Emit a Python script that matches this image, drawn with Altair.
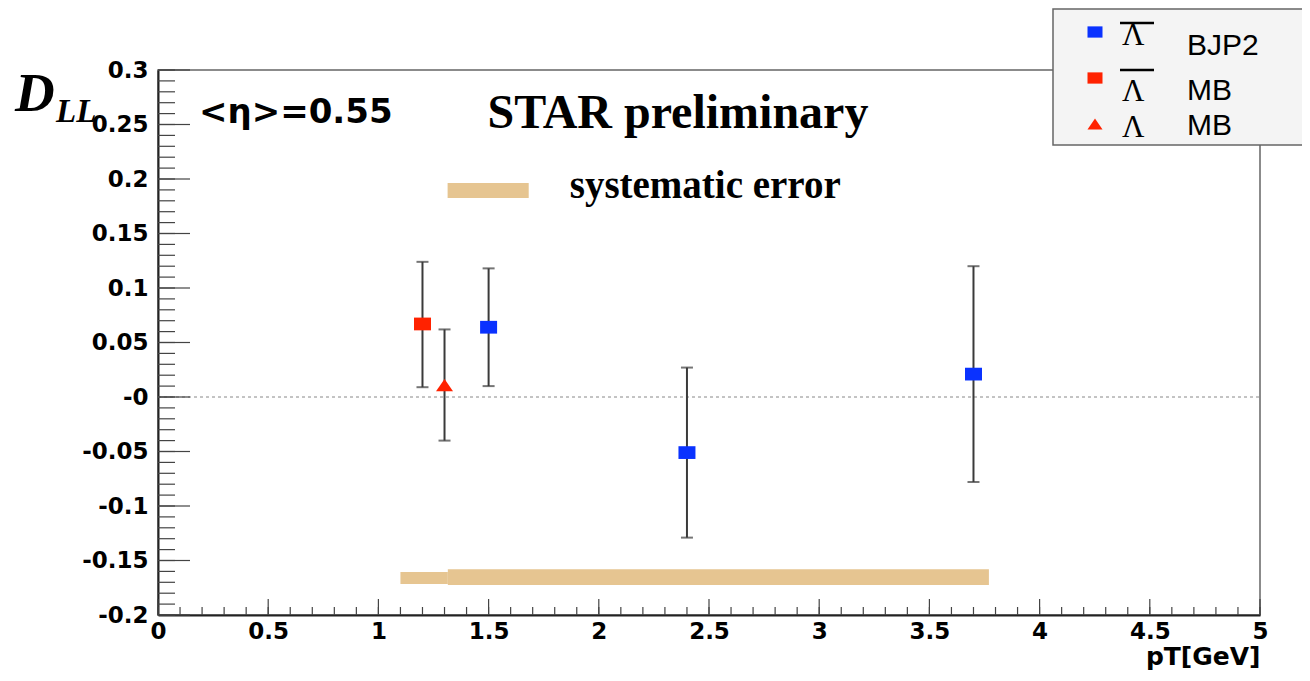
import altair as alt
import pandas as pd

# ---------------- data ----------------
series_names = ["Lbar BJP2", "Lbar MB", "L MB"]
series_colors = ["#0a32ff", "#ff2200", "#ff2200"]
series_shapes = [
    "M-1,-0.75L1,-0.75L1,0.75L-1,0.75Z",
    "M-1,-0.75L1,-0.75L1,0.75L-1,0.75Z",
    "M0,-0.72L1,0.72L-1,0.72Z",
]

pt = [1.5, 2.4, 3.7, 1.2, 1.3]
dll = [0.064, -0.051, 0.021, 0.067, 0.011]
err_lo = [0.010, -0.129, -0.078, 0.009, -0.040]
err_hi = [0.118, 0.027, 0.120, 0.124, 0.062]
series = [series_names[0], series_names[0], series_names[0], series_names[1], series_names[2]]

# systematic error bands
sys_x1 = [1.10, 1.315]
sys_x2 = [1.315, 3.77]
sys_lo = [-0.1715, -0.1725]
sys_hi = [-0.1605, -0.158]

# legend swatch of systematic error
swatch_x1 = [1.314]
swatch_x2 = [1.682]
swatch_lo = [0.1826]
swatch_hi = [0.1963]

zero_line = [0.0]

x_major = [0, 0.5, 1, 1.5, 2, 2.5, 3, 3.5, 4, 4.5, 5]
y_major = [-0.2, -0.15, -0.1, -0.05, 0, 0.05, 0.1, 0.15, 0.2, 0.25, 0.3]
x_minor = [round(i * 0.1, 1) for i in range(51)]
y_minor = [round(-0.2 + i * 0.01, 2) for i in range(51)]

annot_text = ["<\u03b7>=0.55", "STAR preliminary", "systematic error"]
annot_x = [0.186, 1.495, 1.868]
annot_y = [0.2514, 0.2468, 0.1826]

legend_names = ["BJP2", "MB", "MB"]
legend_lambda = ["\u039b", "\u039b", "\u039b"]

W, H = 1102, 545
SANS = "DejaVu Sans"
SERIF = "Liberation Serif"

xs = alt.Scale(domain=[0, 5], nice=False, zero=False)
ys = alt.Scale(domain=[-0.2, 0.3], nice=False, zero=False)

X_AX = alt.Axis(
    values=x_major, ticks=False, tickSize=0, grid=False,
    labelExpr="'' + datum.value",
    labelFont=SANS, labelFontSize=23, labelFontWeight="bold", labelColor="black",
    labelPadding=5, labelFlush=False, labelOverlap=False, labelBound=False,
    domainColor="#222", domainWidth=2,
    title="pT[GeV]", titleFont=SANS, titleFontSize=25, titleFontWeight="bold",
    titleColor="black", titleAnchor="end", titleAlign="right",
    titleBaseline="alphabetic", titleX=W, titleY=49,
)
Y_AX = alt.Axis(
    values=y_major, ticks=False, tickSize=0, grid=False,
    labelExpr="datum.value == 0 ? '-0' : '' + datum.value",
    labelFont=SANS, labelFontSize=23, labelFontWeight="bold", labelColor="black",
    labelPadding=10, labelFlush=False, labelOverlap=False, labelBound=False,
    domainColor="#222", domainWidth=2, title=None,
)


def X(f):
    return alt.X(f, scale=xs, axis=X_AX)


def Y(f):
    return alt.Y(f, scale=ys, axis=Y_AX)


df = pd.DataFrame({"pt": pt, "dll": dll, "lo": err_lo, "hi": err_hi, "series": series})

zero = alt.Chart(pd.DataFrame({"z": zero_line})).mark_rule(
    color="#888", strokeWidth=1, strokeDash=[3, 3]
).encode(y=Y("z:Q"), x=alt.value(0), x2=alt.value(W))

sysdf = pd.DataFrame({"x1": sys_x1, "x2": sys_x2, "lo": sys_lo, "hi": sys_hi})
sysbars = alt.Chart(sysdf).mark_rect(color="#e6c591").encode(
    x=X("x1:Q"), x2="x2:Q", y=Y("lo:Q"), y2="hi:Q",
)

swdf = pd.DataFrame({"x1": swatch_x1, "x2": swatch_x2, "lo": swatch_lo, "hi": swatch_hi})
swatch = alt.Chart(swdf).mark_rect(color="#e6c591").encode(
    x=X("x1:Q"), x2="x2:Q", y=Y("lo:Q"), y2="hi:Q",
)

ERR_COL = "#3a3a3a"
errbars = alt.Chart(df).mark_rule(color=ERR_COL, strokeWidth=2).encode(
    x=X("pt:Q"), y=Y("lo:Q"), y2="hi:Q",
)
cap_lo = alt.Chart(df).mark_tick(color=ERR_COL, orient="horizontal", size=12, thickness=2).encode(
    x=X("pt:Q"), y=Y("lo:Q")
)
cap_hi = alt.Chart(df).mark_tick(color=ERR_COL, orient="horizontal", size=12, thickness=2).encode(
    x=X("pt:Q"), y=Y("hi:Q")
)

legend = alt.Legend(
    orient="none", legendX=922, legendY=-53, title=None, padding=0,
    symbolOffset=0, labelExpr="''", labelFontSize=30, rowPadding=16,
    symbolSize=225, symbolStrokeWidth=0,
)

points = alt.Chart(df).mark_point(filled=True, opacity=1, size=289, strokeWidth=0).encode(
    x=X("pt:Q"),
    y=Y("dll:Q"),
    color=alt.Color("series:N", scale=alt.Scale(domain=series_names, range=series_colors),
                    legend=legend),
    shape=alt.Shape("series:N", scale=alt.Scale(domain=series_names, range=series_shapes),
                    legend=legend),
)

tick_col = "#444"
ymin_t = alt.Chart(pd.DataFrame({"v": y_minor})).mark_rule(color=tick_col, strokeWidth=1.2).encode(
    y=Y("v:Q"), x=alt.value(0), x2=alt.value(17)
)
ymaj_t = alt.Chart(pd.DataFrame({"v": y_major})).mark_rule(color=tick_col, strokeWidth=1.2).encode(
    y=Y("v:Q"), x=alt.value(0), x2=alt.value(32)
)
xmin_t = alt.Chart(pd.DataFrame({"v": x_minor})).mark_rule(color=tick_col, strokeWidth=1.2).encode(
    x=X("v:Q"), y=alt.value(H), y2=alt.value(H - 8)
)
xmaj_t = alt.Chart(pd.DataFrame({"v": x_major})).mark_rule(color=tick_col, strokeWidth=1.2).encode(
    x=X("v:Q"), y=alt.value(H), y2=alt.value(H - 16)
)

adf = pd.DataFrame({"t": annot_text, "x": annot_x, "y": annot_y})
eta = alt.Chart(adf.iloc[[0]]).mark_text(
    font=SANS, fontSize=34, fontWeight="bold", align="left", baseline="alphabetic", color="black"
).encode(x=X("x:Q"), y=Y("y:Q"), text="t:N")
star = alt.Chart(adf.iloc[[1]]).mark_text(
    font=SERIF, fontSize=48, fontWeight="bold", align="left", baseline="alphabetic", color="black"
).encode(x=X("x:Q"), y=Y("y:Q"), text="t:N")
syst = alt.Chart(adf.iloc[[2]]).mark_text(
    font=SERIF, fontSize=39, fontWeight="bold", align="left", baseline="alphabetic", color="black"
).encode(x=X("x:Q"), y=Y("y:Q"), text="t:N")

ylab_d = alt.Chart(pd.DataFrame({"t": ["D"]})).mark_text(
    font=SERIF, fontSize=55, fontWeight="bold", fontStyle="italic", align="left",
    baseline="alphabetic", color="black"
).encode(x=alt.value(-143), y=alt.value(41), text="t:N")
ylab_ll = alt.Chart(pd.DataFrame({"t": ["LL"]})).mark_text(
    font=SERIF, fontSize=33, fontWeight="bold", fontStyle="italic", align="left",
    baseline="alphabetic", color="black"
).encode(x=alt.value(-102), y=alt.value(52), text="t:N")

# legend box (frame), lambda glyphs with overbars and entry names
legbox = alt.Chart(pd.DataFrame({"t": ["box"]})).mark_rect(
    fill="#f4f4f4", stroke="#666", strokeWidth=1.5
).encode(x=alt.value(895), x2=alt.value(1160), y=alt.value(-61), y2=alt.value(75))

leg_lam = []
for lam, yb in zip(legend_lambda, [-25, 31, 67]):
    leg_lam.append(alt.Chart(pd.DataFrame({"t": [lam]})).mark_text(
        font=SERIF, fontSize=31, align="left", baseline="alphabetic", color="black"
    ).encode(x=alt.value(964), y=alt.value(yb), text="t:N"))
leg_bar = []
for yb in [-47, 0]:
    leg_bar.append(alt.Chart(pd.DataFrame({"t": ["bar"]})).mark_rule(
        color="black", strokeWidth=2.5
    ).encode(x=alt.value(962), x2=alt.value(996), y=alt.value(yb)))
leg_txt = []
for name, yb in zip(legend_names, [-15, 30, 65]):
    leg_txt.append(alt.Chart(pd.DataFrame({"t": [name]})).mark_text(
        font="Liberation Sans", fontSize=30, align="left", baseline="alphabetic", color="black"
    ).encode(x=alt.value(1029), y=alt.value(yb), text="t:N"))

chart = alt.layer(
    zero, sysbars, swatch, ymin_t, ymaj_t, xmin_t, xmaj_t,
    errbars, cap_lo, cap_hi, points, eta, star, syst, ylab_d, ylab_ll,
    legbox, *leg_lam, *leg_bar, *leg_txt,
).resolve_scale(color="shared", shape="shared").properties(
    width=W, height=H,
    autosize=alt.AutoSizeParams(type="none"),
    padding={"left": 150, "top": 62, "right": 42, "bottom": 57},
    background="white",
).configure_view(
    stroke="#666", strokeWidth=1.5
)

chart.save("out.html", embed_options={"renderer": "svg", "actions": False})
